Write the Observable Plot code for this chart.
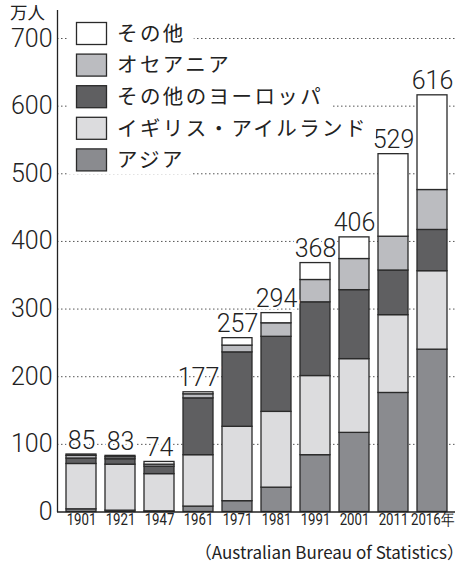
<!DOCTYPE html>
<html><head><meta charset="utf-8">
<script src="https://cdn.jsdelivr.net/npm/d3@7"></script>
<script src="https://cdn.jsdelivr.net/npm/@observablehq/plot@0.6"></script>
<style>
body{margin:0;background:#fff;}
#chart{position:relative;width:464px;}
#caption{font:17px "Noto Sans CJK JP","Noto Sans",sans-serif;color:#222;text-align:right;margin-right:0;margin-top:1px;line-height:22px;white-space:nowrap;}
</style>
</head><body>
<div id="chart"></div>
<div id="caption">（Australian Bureau of Statistics）</div>
<script>
const years = ["1901","1921","1947","1961","1971","1981","1991","2001","2011","2016"];
const yearLabels = ["1901","1921","1947","1961","1971","1981","1991","2001","2011","2016年"];
const regions = ["アジア","イギリス・アイルランド","その他のヨーロッパ","オセアニア","その他"];
const asia    = [4, 2, 1, 8, 16, 36, 84, 117, 176, 240];
const uk      = [67, 68, 55, 76, 110, 112, 117, 109, 115, 116];
const europe  = [8, 8, 11, 84, 110, 111, 109, 102, 66, 61];
const oceania = [4, 3, 3, 6, 10, 20, 33, 46, 50, 59];
const other   = [2, 2, 4, 3, 11, 15, 25, 32, 122, 140];
const totals  = [85, 83, 74, 177, 257, 294, 368, 406, 529, 616];
const colors  = ["#8a8b8f", "#dcdcde", "#5f5f61", "#bbbcc0", "#ffffff"];
const yTicks  = [0, 100, 200, 300, 400, 500, 600, 700];
const unitLabel = "万人";

const series = [asia, uk, europe, oceania, other];
const data = years.flatMap((yr, i) => regions.map((r, j) => ({year: yr, region: r, value: series[j][i]})));
const totalRows = years.map((yr, i) => ({year: yr, total: totals[i]}));

const numFont = "Roboto, 'Liberation Sans', sans-serif";

const chart = Plot.plot({
  width: 464, height: 540,
  marginTop: 38, marginBottom: 28.5, marginLeft: 57, marginRight: 9,
  style: {background: "white"},
  x: {domain: years, paddingInner: 0.24, paddingOuter: 0.12, axis: null},
  y: {domain: [0, 700], axis: null},
  color: {domain: regions, range: colors},
  marks: [
    Plot.ruleY(yTicks.filter(d => d > 0), {stroke: "#555", strokeWidth: 1, strokeDasharray: "1.5,2.5"}),
    Plot.barY(data, {x: "year", y: "value", fill: "region", stroke: "#2a2a2a", strokeWidth: 1.3}),
    Plot.ruleY([0], {stroke: "#222", strokeWidth: 1.3}),
    Plot.text(totalRows, {x: "year", y: "total", text: d => String(d.total), lineAnchor: "bottom", dy: -6,
      fontSize: 25, fontFamily: numFont, fontWeight: 300, fill: "#222", stroke: "white", strokeWidth: 5, paintOrder: "stroke"}),
    Plot.text(yTicks, {y: d => d, frameAnchor: "left", text: d => String(d), textAnchor: "end", dx: -5, dy: 0,
      fontSize: 25, fontFamily: numFont, fontWeight: 300, fill: "#222"}),
    Plot.text(years, {x: d => d, frameAnchor: "bottom", text: (d, i) => yearLabels[i], dy: 13,
      fontSize: 16.5, fontFamily: numFont, fill: "#222"})
  ]
});

document.getElementById("chart").appendChild(chart);
const svg = d3.select(chart);

// condense the year labels horizontally
const labelSet = new Set(yearLabels);
svg.selectAll("text").filter(function() { return labelSet.has(this.textContent); })
  .attr("transform", function() { return (this.getAttribute("transform") || "") + " scale(0.8,1)"; });

// y axis line
svg.append("line").attr("x1", 57.5).attr("x2", 57.5).attr("y1", 10).attr("y2", 512)
  .attr("stroke", "#222").attr("stroke-width", 1.3);
// unit label
svg.append("text").attr("x", 10).attr("y", 19).attr("text-anchor", "start").text(unitLabel)
  .attr("font-family", "'Noto Sans CJK JP', sans-serif").attr("font-size", 17.5).attr("fill", "#222");

// legend (top to bottom: reverse of stacking order)
const legendItems = regions.map((r, j) => ({r, c: colors[j]})).reverse();
const lg = svg.append("g").attr("text-anchor", "start");
legendItems.forEach((it, k) => {
  const top = 22 + k * 31.6;
  const g = lg.append("g");
  const bg = g.append("rect").attr("x", 68).attr("y", top - 3).attr("height", 29).attr("fill", "white");
  g.append("rect").attr("x", 76.5).attr("y", top + 0.5).attr("width", 30).attr("height", 22)
    .attr("fill", it.c).attr("stroke", "#2a2a2a").attr("stroke-width", 1.3);
  const t = g.append("text").attr("x", 117).attr("y", top + 11.5).attr("dy", "0.36em")
    .attr("text-anchor", "start")
    .attr("font-family", "'Noto Sans CJK JP', sans-serif").attr("font-size", 20.5)
    .attr("letter-spacing", "2.4px").attr("fill", "#222").text(it.r);
  const w = t.node().getComputedTextLength();
  bg.attr("width", 117 + w + 8 - 68);
});
</script>
</body></html>
